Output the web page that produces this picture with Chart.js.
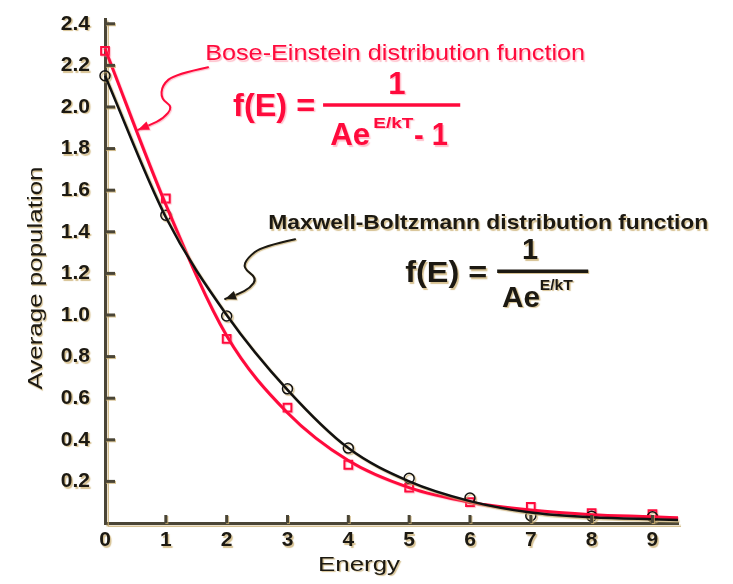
<!DOCTYPE html>
<html><head><meta charset="utf-8">
<script src="https://cdn.jsdelivr.net/npm/chart.js@4.4.0/dist/chart.umd.min.js"></script>
<style>html,body{margin:0;padding:0;background:#fff}canvas{display:block}</style>
</head><body>
<canvas id="c" width="733" height="584"></canvas>
<script>
// ---- data ----
const energy = [0, 1, 2, 3, 4, 5, 6, 7, 8, 9];
const mbPoints = [2.15, 1.48, 0.995, 0.645, 0.36, 0.215, 0.12, 0.035, 0.033, 0.03];
const bePoints = [2.27, 1.56, 0.885, 0.555, 0.28, 0.17, 0.10, 0.077, 0.048, 0.043];
const curveEnergy = [0, 1, 2, 3, 4, 5, 6, 7, 8, 9, 9.42];
const mbCurve = [2.15, 1.47, 1.0, 0.64, 0.36, 0.2, 0.105, 0.05, 0.028, 0.018, 0.015];
const beCurve = [2.28, 1.53, 0.9, 0.53, 0.3, 0.17, 0.1, 0.062, 0.04, 0.03, 0.025];
const xTicks = [0, 1, 2, 3, 4, 5, 6, 7, 8, 9];
const yTicks = [0.2, 0.4, 0.6, 0.8, 1.0, 1.2, 1.4, 1.6, 1.8, 2.0, 2.2, 2.4];
const xTitle = 'Energy';
const yTitle = 'Average population';
const beTitle = 'Bose-Einstein distribution function';
const mbTitle = 'Maxwell-Boltzmann distribution function';

const RED = '#ff0a3c';
const BLACK = '#111111';
const AXIS = '#4a4536';
const TEXT = '#1c1912';
const HALO = 'rgba(200,172,110,0.75)';
const PINK = 'rgba(255,140,160,0.55)';
const FAM = '"Liberation Sans", Arial, sans-serif';

const xy = (xs, ys) => xs.map((x, i) => ({x, y: ys[i]}));

function txt(ctx, s, cx, cy, font, color, w, halo) {
  ctx.save();
  ctx.font = font; ctx.fillStyle = color;
  ctx.textAlign = 'center'; ctx.textBaseline = 'middle';
  if (halo) { ctx.shadowColor = halo; ctx.shadowOffsetX = 1.5; ctx.shadowOffsetY = 1.5; ctx.shadowBlur = 1; }
  const m = ctx.measureText(s).width;
  ctx.translate(cx, cy);
  if (w) ctx.scale(w / m, 1);
  ctx.fillText(s, 0, 0);
  ctx.restore();
}

function squiggle(ctx, X, Y, pts, color, halo) {
  ctx.save();
  ctx.strokeStyle = color; ctx.fillStyle = color; ctx.lineWidth = 2; ctx.lineJoin = 'round'; ctx.lineCap = 'round';
  if (halo) { ctx.shadowColor = halo; ctx.shadowOffsetX = 1; ctx.shadowOffsetY = 1; ctx.shadowBlur = 1; }
  const p = pts.map(q => [X(q[0]), Y(q[1])]);
  ctx.beginPath();
  ctx.moveTo(p[0][0], p[0][1]);
  for (let i = 1; i < p.length - 1; i++) {
    const mx = (p[i][0] + p[i + 1][0]) / 2, my = (p[i][1] + p[i + 1][1]) / 2;
    ctx.quadraticCurveTo(p[i][0], p[i][1], mx, my);
  }
  const a = p[p.length - 2], b = p[p.length - 1];
  ctx.lineTo(b[0], b[1]);
  ctx.stroke();
  const ang = Math.atan2(b[1] - a[1], b[0] - a[0]);
  const L = 11, W = 4.5;
  ctx.beginPath();
  ctx.moveTo(b[0], b[1]);
  ctx.lineTo(b[0] - L * Math.cos(ang) + W * Math.sin(ang), b[1] - L * Math.sin(ang) - W * Math.cos(ang));
  ctx.lineTo(b[0] - L * Math.cos(ang) - W * Math.sin(ang), b[1] - L * Math.sin(ang) + W * Math.cos(ang));
  ctx.closePath(); ctx.fill();
  ctx.restore();
}

const decor = {
  id: 'decor',
  beforeDraw(chart) {
    const ctx = chart.ctx;
    ctx.save();
    ctx.shadowColor = HALO; ctx.shadowOffsetX = 1.5; ctx.shadowOffsetY = 1.5; ctx.shadowBlur = 1;
  },
  beforeDatasetsDraw(chart) { chart.ctx.restore(); },
  beforeDatasetDraw(chart, args) {
    const ctx = chart.ctx; ctx.save();
    if (args.index === 0 || args.index === 2) { ctx.shadowColor = HALO; ctx.shadowOffsetX = 1.5; ctx.shadowOffsetY = 1.5; ctx.shadowBlur = 1; }
    else { ctx.shadowColor = PINK; ctx.shadowOffsetX = 1; ctx.shadowOffsetY = 1; ctx.shadowBlur = 1; }
  },
  afterDatasetDraw(chart) { chart.ctx.restore(); },
  afterDraw(chart) {
    const {ctx, scales: {x, y}} = chart;
    const X = v => x.getPixelForValue(v), Y = v => y.getPixelForValue(v);
    ctx.save();
    ctx.strokeStyle = AXIS; ctx.lineWidth = 3;
    ctx.shadowColor = HALO; ctx.shadowOffsetX = 1; ctx.shadowOffsetY = 1;
    yTicks.forEach(v => { ctx.beginPath(); ctx.moveTo(X(0), Y(v)); ctx.lineTo(X(0) + 10, Y(v)); ctx.stroke(); });
    xTicks.forEach(v => { if (v === 0) return; ctx.beginPath(); ctx.moveTo(X(v), Y(0)); ctx.lineTo(X(v), Y(0) - 8); ctx.stroke(); });
    ctx.restore();

    // axis titles
    txt(ctx, xTitle, 359, 565, '20px ' + FAM, TEXT, 82, HALO);
    ctx.save(); ctx.translate(36, 278); ctx.rotate(-Math.PI / 2);
    txt(ctx, yTitle, 0, 0, '20px ' + FAM, TEXT, 223, HALO);
    ctx.restore();

    // Bose-Einstein annotation
    txt(ctx, beTitle, X(4.77), Y(2.254), '22px ' + FAM, RED, 380, PINK);
    txt(ctx, 'f(E) =', X(2.78), Y(2.0), 'bold 31px ' + FAM, RED, 82, PINK);
    txt(ctx, '1', X(4.80), Y(2.105), 'bold 31px ' + FAM, RED, null, PINK);
    txt(ctx, 'Ae', X(4.03), Y(1.856), 'bold 31px ' + FAM, RED, 40, PINK);
    txt(ctx, 'E/kT', X(4.74), Y(1.919), 'bold 14px ' + FAM, RED, 40, PINK);
    txt(ctx, '- 1', X(5.36), Y(1.856), 'bold 31px ' + FAM, RED, 34, PINK);
    ctx.save(); ctx.strokeStyle = RED; ctx.lineWidth = 3.5;
    ctx.beginPath(); ctx.moveTo(X(3.585), Y(2.01)); ctx.lineTo(X(5.84), Y(2.01)); ctx.stroke(); ctx.restore();
    squiggle(ctx, X, Y, [[1.694, 2.191], [1.151, 2.158], [0.9375, 2.105], [0.921, 2.038], [1.118, 2.0], [0.954, 1.943], [0.74, 1.914], [0.543, 1.89]], RED, PINK);

    // Maxwell-Boltzmann annotation
    txt(ctx, mbTitle, X(6.30), Y(1.44), 'bold 21px ' + FAM, TEXT, 440, HALO);
    txt(ctx, 'f(E) =', X(5.61), Y(1.196), 'bold 29px ' + FAM, TEXT, 82, HALO);
    txt(ctx, '1', X(6.99), Y(1.306), 'bold 29px ' + FAM, TEXT, null, HALO);
    txt(ctx, 'Ae', X(6.84), Y(1.077), 'bold 29px ' + FAM, TEXT, 38, HALO);
    txt(ctx, 'E/kT', X(7.42), Y(1.139), 'bold 14px ' + FAM, TEXT, 33, HALO);
    ctx.save(); ctx.strokeStyle = TEXT; ctx.lineWidth = 3.5; ctx.shadowColor = HALO; ctx.shadowOffsetX = 1; ctx.shadowOffsetY = 1;
    ctx.beginPath(); ctx.moveTo(X(6.447), Y(1.21)); ctx.lineTo(X(7.944), Y(1.21)); ctx.stroke(); ctx.restore();
    squiggle(ctx, X, Y, [[3.125, 1.364], [2.582, 1.33], [2.336, 1.273], [2.27, 1.225], [2.5, 1.177], [2.385, 1.129], [2.188, 1.1], [1.974, 1.077]], TEXT, HALO);
  }
};

const tickFont = {family: FAM, size: 21, weight: 'bold'};

new Chart(document.getElementById('c'), {
  type: 'scatter',
  data: {
    datasets: [
      {data: xy(curveEnergy, mbCurve), showLine: true, borderColor: BLACK, borderWidth: 2.5, pointRadius: 0, cubicInterpolationMode: 'monotone', clip: false},
      {data: xy(curveEnergy, beCurve), showLine: true, borderColor: RED, borderWidth: 3, pointRadius: 0, cubicInterpolationMode: 'monotone', clip: false},
      {data: xy(energy, mbPoints), showLine: false, pointStyle: 'circle', pointRadius: 5, borderColor: BLACK, borderWidth: 1.5, backgroundColor: 'rgba(0,0,0,0)', clip: false},
      {data: xy(energy, bePoints), showLine: false, pointStyle: 'rect', pointRadius: 5.5, borderColor: RED, borderWidth: 2, backgroundColor: 'rgba(0,0,0,0)', clip: false}
    ]
  },
  options: {
    responsive: false,
    animation: false,
    layout: {padding: {left: 0, top: 17, right: 55, bottom: 0}},
    plugins: {legend: {display: false}, tooltip: {enabled: false}},
    scales: {
      x: {
        type: 'linear', min: 0, max: 9.42,
        grid: {display: false},
        border: {display: true, color: AXIS, width: 3},
        afterBuildTicks: s => { s.ticks = xTicks.map(v => ({value: v})); },
        afterFit: s => { s.height = 61; },
        ticks: {font: tickFont, color: TEXT, padding: -3, callback: v => String(v), autoSkip: false, maxRotation: 0}
      },
      y: {
        type: 'linear', min: 0, max: 2.42,
        grid: {display: false},
        border: {display: true, color: AXIS, width: 3},
        afterBuildTicks: s => { s.ticks = yTicks.map(v => ({value: v})); },
        afterFit: s => { s.width = 105; },
        ticks: {font: tickFont, color: TEXT, padding: 7, callback: v => v.toFixed(1), autoSkip: false}
      }
    }
  },
  plugins: [decor]
});
</script>
</body></html>
